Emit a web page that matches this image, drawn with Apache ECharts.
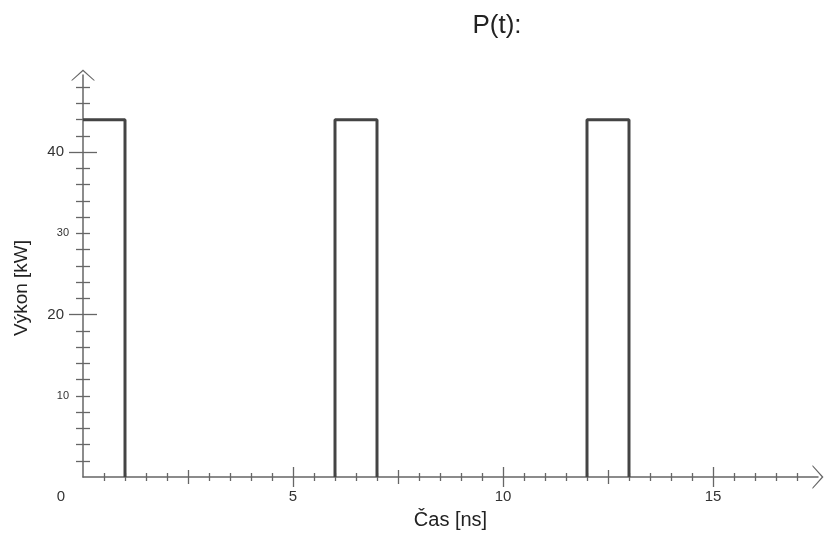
<!DOCTYPE html>
<html>
<head>
<meta charset="utf-8">
<script src="https://cdn.jsdelivr.net/npm/echarts@6/dist/echarts.min.js"></script>
<style>
  html, body { margin: 0; padding: 0; background: #fff; }
  #chart { width: 825px; height: 537px; }
</style>
</head>
<body>
<div id="chart"></div>
<script>
// data: square power pulses, null = gap between pulses
const time  = [0, 1, 1, null, 6, 6, 7, 7, null, 12, 12, 13, 13];
const power = [44, 44, 0, null, 0, 44, 44, 0, null, 0, 44, 44, 0];

// tick positions / labels
const xLabelValues = [0, 5, 10, 15];
const xMidTicks = [2.5, 7.5, 12.5];
const xMajorTicks = [5, 10, 15];
const xMinorTicks = [0.5, 1, 1.5, 2, 3, 3.5, 4, 4.5, 5.5, 6, 6.5, 7, 8, 8.5, 9, 9.5,
                     10.5, 11, 11.5, 12, 13, 13.5, 14, 14.5, 15.5, 16, 16.5, 17];
const yLabelValues = [10, 20, 30, 40];
const yMajorTicks = [20, 40];
const yMinorTicks = [2, 4, 6, 8, 10, 12, 14, 16, 18, 22, 24, 26, 28, 30, 32, 34, 36, 38, 42, 44, 46, 48];

const axisColor = '#666';
const font = 'Liberation Sans';
// open arrow head, drawn as a thin filled V
const chevron = 'path://M0 11 L12 0 L24 11 L22.6 11 L12 1.8 L1.4 11 Z';

const chart = echarts.init(document.getElementById('chart'));

const points = time.map((t, i) => t === null ? [0, '-'] : [t, power[i]]);

// tick-only axis helper: ticks centred on the axis line via negative offset
function tickX(values, len) {
    return {
        type: 'value', min: 0, max: 17.5, position: 'bottom', offset: -len,
        axisLine: { show: false }, splitLine: { show: false }, axisLabel: { show: false },
        axisTick: { show: true, customValues: values, length: len * 2, lineStyle: { color: axisColor, width: 1.3 } }
    };
}
function tickY(values, len) {
    return {
        type: 'value', min: 0, max: 49.5, position: 'left', offset: -len,
        axisLine: { show: false }, splitLine: { show: false }, axisLabel: { show: false },
        axisTick: { show: true, customValues: values, length: len * 2, lineStyle: { color: axisColor, width: 1.3 } }
    };
}

chart.setOption({
    animation: false,
    title: {
        text: 'P(t):',
        left: 492, top: 8,
        textAlign: 'center',
        textStyle: { fontFamily: font, fontSize: 26, fontWeight: 'normal', color: '#222' }
    },
    grid: { left: 83, right: 7, top: 75, bottom: 60 },
    xAxis: [
        {
            type: 'value', min: 0, max: 17.5,
            name: 'Čas [ns]', nameLocation: 'middle', nameGap: 33,
            nameTextStyle: { fontFamily: font, fontSize: 20, color: '#222' },
            axisLine: { show: true, symbol: ['none', chevron], symbolSize: [24, 11], lineStyle: { color: axisColor, width: 1.5 } },
            axisTick: { show: false },
            splitLine: { show: false },
            axisLabel: {
                customValues: xLabelValues,
                margin: 12,
                fontFamily: font, fontSize: 15, color: '#333',
                formatter: v => v === 0 ? '{z|0}' : String(v),
                rich: { z: { fontFamily: font, fontSize: 15, color: '#333', padding: [0, 44, 0, 0] } }
            }
        },
        tickX(xMinorTicks, 4),
        tickX(xMidTicks, 7),
        tickX(xMajorTicks, 10)
    ],
    yAxis: [
        {
            type: 'value', min: 0, max: 49.5,
            name: 'Výkon [kW]', nameLocation: 'middle', nameGap: 52,
            nameTextStyle: { fontFamily: font, fontSize: 19, color: '#222', padding: [0, 24, 0, 0] },
            axisLine: { show: true, symbol: ['none', chevron], symbolSize: [24, 11], lineStyle: { color: axisColor, width: 1.5 } },
            axisTick: { show: false },
            splitLine: { show: false },
            axisLabel: {
                customValues: yLabelValues,
                margin: 14,
                color: '#333',
                formatter: v => (v % 20 === 0 ? '{big|' : '{small|') + v + '}',
                rich: {
                    big: { fontFamily: font, fontSize: 15, color: '#333', padding: [0, 5, 0, 0] },
                    small: { fontFamily: font, fontSize: 11, color: '#333' }
                }
            }
        },
        tickY(yMinorTicks, 7),
        tickY(yMajorTicks, 14)
    ],
    series: [{
        type: 'line',
        xAxisIndex: 0, yAxisIndex: 0,
        data: points,
        showSymbol: false,
        connectNulls: false,
        lineStyle: { color: '#444', width: 3 },
        z: 1
    }]
});
</script>
</body>
</html>
